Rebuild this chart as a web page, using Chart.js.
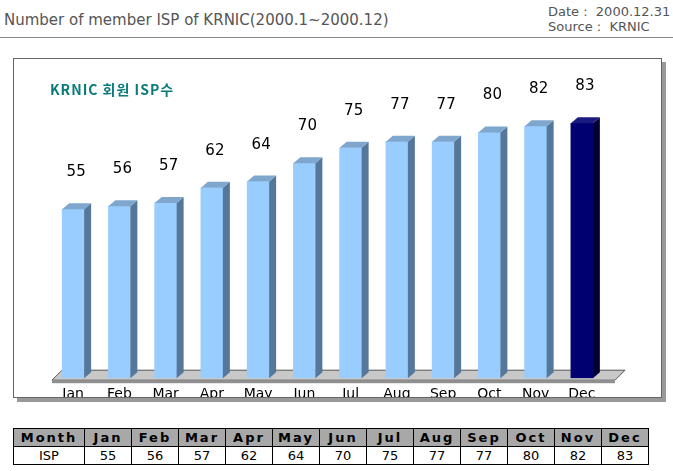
<!DOCTYPE html>
<html><head><meta charset="utf-8">
<script src="https://cdn.jsdelivr.net/npm/chart.js"></script>
<style>
body{margin:0;width:673px;height:471px;background:#fff;font-family:"DejaVu Sans",sans-serif;position:relative;overflow:hidden}
#title{position:absolute;left:4px;top:11px;font-size:15px;color:#555}
#info{position:absolute;left:548px;top:4px;font-size:13px;color:#555;line-height:15px}
#hr{position:absolute;left:0;top:37px;width:673px;border-top:1px solid #888}
#box{position:absolute;left:13px;top:58px;width:647px;height:338px;border:1px solid #666;box-shadow:4px 4px 0 #999}
#kr{position:absolute;left:50px;top:79px;font-size:14px;color:#0a7a7a;letter-spacing:1px;font-family:"Noto Sans CJK KR";font-weight:bold}
table{position:absolute;left:13px;top:428px;border-collapse:collapse;font-size:13px}
td{border:1px solid #000;text-align:center;height:17px;padding:0;width:46px}
tr:first-child td{background:#a8a8a8;font-weight:bold;letter-spacing:2px}
</style></head><body>
<div id="title">Number of member ISP of KRNIC(2000.1~2000.12)</div>
<div id="info">Date :&nbsp; 2000.12.31<br>Source :&nbsp; KRNIC</div>
<div id="hr"></div>
<div id="box"><canvas id="c" width="647" height="338"></canvas></div>
<div id="kr">KRNIC 회원 ISP수</div>
<table id="t"></table>
<script>
const categories=["Jan","Feb","Mar","Apr","May","Jun","Jul","Aug","Sep","Oct","Nov","Dec"];
const ispValues=[55,56,57,62,64,70,75,77,77,80,82,83];
const rowLabels=["Month","ISP"];
const t=document.getElementById('t');
let h='<tr><td style="width:70px">'+rowLabels[0]+'</td>'+categories.map(c=>'<td>'+c+'</td>').join('')+'</tr>';
h+='<tr><td>'+rowLabels[1]+'</td>'+ispValues.map(v=>'<td>'+v+'</td>').join('')+'</tr>';
t.innerHTML=h;
const DX=7,DY=6;
const plug={id:'p3d',
beforeDatasetsDraw(ch){const c=ch.ctx,a=ch.chartArea;const b=a.bottom+2;
 c.save();c.fillStyle='#c8c8c8';c.strokeStyle='#555';c.lineWidth=1;
 c.beginPath();c.moveTo(a.left+2,b);c.lineTo(a.right+10,b);c.lineTo(a.right+20,b-10);c.lineTo(a.left+12,b-10);c.closePath();c.fill();c.stroke();
 c.fillStyle='#909090';c.fillRect(a.left+2,b,a.right+8-a.left,3);c.restore();},
afterDatasetsDraw(ch){const c=ch.ctx;const m=ch.getDatasetMeta(0);
 m.data.forEach((el,i)=>{const dark=i===11;const l=el.x-el.width/2,r=el.x+el.width/2,tp=el.y,bt=el.base;
  c.fillStyle=dark?'#000033':'#55779a';
  c.beginPath();c.moveTo(r,tp);c.lineTo(r+DX,tp-DY);c.lineTo(r+DX,bt-DY);c.lineTo(r,bt);c.closePath();c.fill();
  c.fillStyle=dark?'#1a1a80':'#7fa6cc';
  c.beginPath();c.moveTo(l,tp);c.lineTo(l+DX,tp-DY);c.lineTo(r+DX,tp-DY);c.lineTo(r,tp);c.closePath();c.fill();
  c.fillStyle='#000';c.font='15px "DejaVu Sans"';c.textAlign='center';c.fillText(ispValues[i],el.x+3,tp-33);
 });}};
new Chart(document.getElementById('c'),{type:'bar',
data:{labels:categories,datasets:[{data:ispValues,backgroundColor:ispValues.map((v,i)=>i===11?'#000070':'#99ccff'),barThickness:22}]},
options:{responsive:false,animation:false,layout:{padding:{left:36,right:56,top:12,bottom:-6}},
plugins:{legend:{display:false},tooltip:{enabled:false}},
scales:{y:{display:false,min:0,max:100},x:{grid:{display:false},border:{display:false},ticks:{color:'#000',font:{size:14,family:'DejaVu Sans'},padding:0}}}},
plugins:[plug]});
</script></body></html>
